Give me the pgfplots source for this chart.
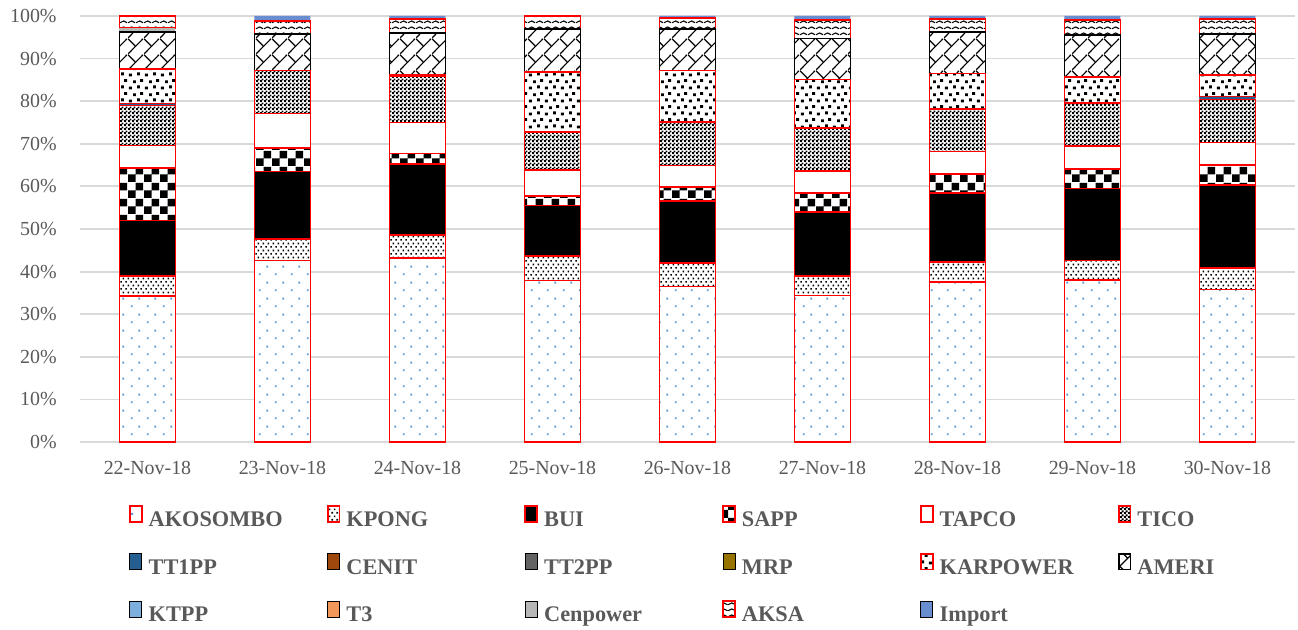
\documentclass[border=0pt]{standalone}
\usepackage{fontspec}
\setmainfont{Liberation Serif}
\usepackage{pgfplots}
\pgfplotsset{compat=1.18}
\usepackage{pgfplotstable}
\usetikzlibrary{patterns}

\definecolor{txtgray}{HTML}{595959}
\definecolor{gridgray}{HTML}{D9D9D9}
\definecolor{akoblue}{HTML}{5B9BD5}
\definecolor{ctt1pp}{HTML}{255E91}
\definecolor{ccenit}{HTML}{9E480E}
\definecolor{ctt2pp}{HTML}{636363}
\definecolor{cmrp}{HTML}{997300}
\definecolor{cktpp}{HTML}{7CAFDD}
\definecolor{ct3}{HTML}{F1975A}
\definecolor{ccenpower}{HTML}{B7B7B7}
\definecolor{cimport}{HTML}{698ED0}

% --- fill patterns (Excel-like) ---
\pgfdeclarepatternformonly{akodots}{\pgfqpoint{0bp}{0bp}}{\pgfqpoint{8bp}{8bp}}{\pgfqpoint{8bp}{8bp}}{%
  \pgfpathrectangle{\pgfqpoint{1.5bp}{1.5bp}}{\pgfqpoint{1bp}{1bp}}%
  \pgfpathrectangle{\pgfqpoint{5.5bp}{5.5bp}}{\pgfqpoint{1bp}{1bp}}%
  \pgfusepath{fill}}
\pgfdeclarepatternformonly{kpongdots}{\pgfqpoint{0bp}{0bp}}{\pgfqpoint{2.4bp}{3.4bp}}{\pgfqpoint{2.4bp}{3.4bp}}{%
  \pgfpathrectangle{\pgfqpoint{0.2bp}{0.2bp}}{\pgfqpoint{0.8bp}{0.8bp}}%
  \pgfpathrectangle{\pgfqpoint{1.4bp}{1.9bp}}{\pgfqpoint{0.8bp}{0.8bp}}%
  \pgfusepath{fill}}
\pgfdeclarepatternformonly{bigcheck}{\pgfqpoint{0bp}{0bp}}{\pgfqpoint{8bp}{8bp}}{\pgfqpoint{8bp}{8bp}}{%
  \pgfpathrectangle{\pgfqpoint{0bp}{0bp}}{\pgfqpoint{4bp}{4bp}}%
  \pgfpathrectangle{\pgfqpoint{4bp}{4bp}}{\pgfqpoint{4bp}{4bp}}%
  \pgfusepath{fill}}
\pgfdeclarepatternformonly{smallcheck}{\pgfqpoint{0bp}{0bp}}{\pgfqpoint{2bp}{2bp}}{\pgfqpoint{2bp}{2bp}}{%
  \pgfpathrectangle{\pgfqpoint{0bp}{0bp}}{\pgfqpoint{1.1bp}{1.1bp}}%
  \pgfpathrectangle{\pgfqpoint{1bp}{1bp}}{\pgfqpoint{1.1bp}{1.1bp}}%
  \pgfusepath{fill}}
\pgfdeclarepatternformonly{confetti}{\pgfqpoint{0bp}{0bp}}{\pgfqpoint{8bp}{6.6bp}}{\pgfqpoint{8bp}{6.6bp}}{%
  \pgfpathrectangle{\pgfqpoint{0.5bp}{0.3bp}}{\pgfqpoint{1.5bp}{1.5bp}}%
  \pgfpathrectangle{\pgfqpoint{4.8bp}{0.9bp}}{\pgfqpoint{1.5bp}{1.5bp}}%
  \pgfpathrectangle{\pgfqpoint{2.7bp}{3.6bp}}{\pgfqpoint{1.5bp}{1.5bp}}%
  \pgfpathrectangle{\pgfqpoint{6.5bp}{4.2bp}}{\pgfqpoint{1.5bp}{1.5bp}}%
  \pgfusepath{fill}}
\pgfdeclarepatternformonly{diagbricks}{\pgfqpoint{0bp}{0bp}}{\pgfqpoint{8bp}{8bp}}{\pgfqpoint{8bp}{8bp}}{%
  \pgfsetlinewidth{0.6bp}%
  \pgfpathmoveto{\pgfqpoint{0bp}{0bp}}\pgfpathlineto{\pgfqpoint{8bp}{8bp}}%
  \pgfpathmoveto{\pgfqpoint{4bp}{4bp}}\pgfpathlineto{\pgfqpoint{0bp}{8bp}}%
  \pgfusepath{stroke}}
\pgfdeclarepatternformonly{waves}{\pgfqpoint{0bp}{0bp}}{\pgfqpoint{4bp}{3bp}}{\pgfqpoint{4bp}{3bp}}{%
  \pgfsetlinewidth{0.6bp}%
  \pgfpathmoveto{\pgfqpoint{0bp}{0.7bp}}\pgfpathlineto{\pgfqpoint{2bp}{1.7bp}}%
  \pgfpathlineto{\pgfqpoint{4bp}{0.7bp}}%
  \pgfusepath{stroke}}

% share of generation (%)
\pgfplotstableread{
x AKOSOMBO KPONG BUI SAPP TAPCO TICO TTIPP CENIT TTIIPP MRP KARPOWER AMERI KTPP T3 Cenpower AKSA Import
0 34.2 4.8 13.0 12.3 5.3 9.4 0.4 0 0 0 8.2 8.6 0 0 1.0 2.8 0.0
1 42.6 5.1 15.8 5.5 8.1 10.1 0 0 0 0 0 8.6 0 0 0 3.0 1.2
2 43.2 5.3 16.8 2.4 7.3 10.8 0 0 0 0 0.3 9.9 0 0 0 3.3 0.7
3 37.9 5.7 11.9 2.2 6.1 8.9 0 0 0 0 14.1 10.1 0 0 0 3.1 0
4 36.5 5.5 14.5 3.3 5.1 10.2 0 0 0 0 12.1 9.8 0 0 0 2.5 0.5
5 34.4 4.5 15.1 4.5 5.2 10.0 0 0 0 0 11.4 9.6 0 0 0 4.4 0.9
6 37.6 4.7 16.2 4.4 5.3 10.0 0 0 0 0 8.3 9.7 0 0 0 3.1 0.7
7 38.1 4.5 16.9 4.6 5.3 10.2 0 0 0 0 6.1 9.8 0 0 0 3.5 1.0
8 35.8 5.0 19.5 4.8 5.2 10.1 0.6 0 0 0 5.2 9.5 0 0 0 3.6 0.7
}\gen

\pgfplotsset{
  /pgfplots/ybar legend/.style={/pgfplots/legend image code/.code={%
    \draw[##1,line width=0.7bp] (0bp,0.2bp) rectangle (7bp,7.2bp);}},
  redbar/.style={preaction={fill=white}, draw=red, line width=0.9bp},
}
\newcommand{\lgd}[1]{\makebox[89bp][l]{\rule[-3bp]{0pt}{13bp}#1}}

\begin{document}
\begin{tikzpicture}
\begin{axis}[
  scale only axis,
  width=607.5bp, height=213bp,
  ybar stacked, bar width=28bp,
  xmin=-0.5, xmax=8.5, ymin=0, ymax=100,
  enlargelimits=false,
  axis line style={draw=none},
  tick style={draw=none},
  major tick length=0pt,
  ymajorgrids,
  grid style={color=gridgray, line width=0.9bp},
  xtick={0,...,8},
  xticklabels={22-Nov-18,23-Nov-18,24-Nov-18,25-Nov-18,26-Nov-18,27-Nov-18,28-Nov-18,29-Nov-18,30-Nov-18},
  ytick={0,10,...,100},
  yticklabel={\pgfmathprintnumber{\tick}\%},
  /pgf/number format/assume math mode=true,
  ticklabel style={font=\fontsize{10}{12}\selectfont, text=txtgray},
  xticklabel style={anchor=base, inner sep=0pt, yshift=-16bp},
  yticklabel style={anchor=east, inner sep=0pt, xshift=-11.5bp},
  legend columns=6,
  legend style={draw=none, fill=none, inner sep=0pt, outer sep=0pt,
    at={(0.0403,-0.1488)}, anchor=north west,
    font=\fontsize{11.2}{13}\selectfont\bfseries, text=txtgray,
    nodes={inner sep=0pt}, row sep=11.5bp,
    /tikz/every odd column/.append style={column sep=3bp}},
]
\addplot[redbar, pattern=akodots, pattern color=akoblue] table[x=x, y=AKOSOMBO] {\gen};
\addplot[redbar, pattern=kpongdots, pattern color=black] table[x=x, y=KPONG] {\gen};
\addplot[fill=black, draw=red, line width=0.9bp] table[x=x, y=BUI] {\gen};
\addplot[redbar, pattern=bigcheck, pattern color=black] table[x=x, y=SAPP] {\gen};
\addplot[redbar, fill=white] table[x=x, y=TAPCO] {\gen};
\addplot[redbar, pattern=smallcheck, pattern color=black] table[x=x, y=TICO] {\gen};
\addplot[fill=ctt1pp, draw=none] table[x=x, y=TTIPP] {\gen};
\addplot[fill=ccenit, draw=none] table[x=x, y=CENIT] {\gen};
\addplot[fill=ctt2pp, draw=none] table[x=x, y=TTIIPP] {\gen};
\addplot[fill=cmrp, draw=none] table[x=x, y=MRP] {\gen};
\addplot[redbar, pattern=confetti, pattern color=black] table[x=x, y=KARPOWER] {\gen};
\addplot[preaction={fill=white}, draw=black, line width=0.9bp, pattern=diagbricks, pattern color=black] table[x=x, y=AMERI] {\gen};
\addplot[fill=cktpp, draw=none] table[x=x, y=KTPP] {\gen};
\addplot[fill=ct3, draw=none] table[x=x, y=T3] {\gen};
\addplot[fill=ccenpower, draw=none] table[x=x, y=Cenpower] {\gen};
\addplot[redbar, pattern=waves, pattern color=black] table[x=x, y=AKSA] {\gen};
\addplot[fill=cimport, draw=none] table[x=x, y=Import] {\gen};
\legend{\lgd{AKOSOMBO},\lgd{KPONG},\lgd{BUI},\lgd{SAPP},\lgd{TAPCO},\lgd{TICO},
  \lgd{TT1PP},\lgd{CENIT},\lgd{TT2PP},\lgd{MRP},\lgd{KARPOWER},\lgd{AMERI},
  \lgd{KTPP},\lgd{T3},\lgd{Cenpower},\lgd{AKSA},\lgd{Import}}
\end{axis}
\pgfresetboundingbox
\path[use as bounding box] (-40bp,-94bp) rectangle (609bp,221bp);
\end{tikzpicture}
\end{document}
